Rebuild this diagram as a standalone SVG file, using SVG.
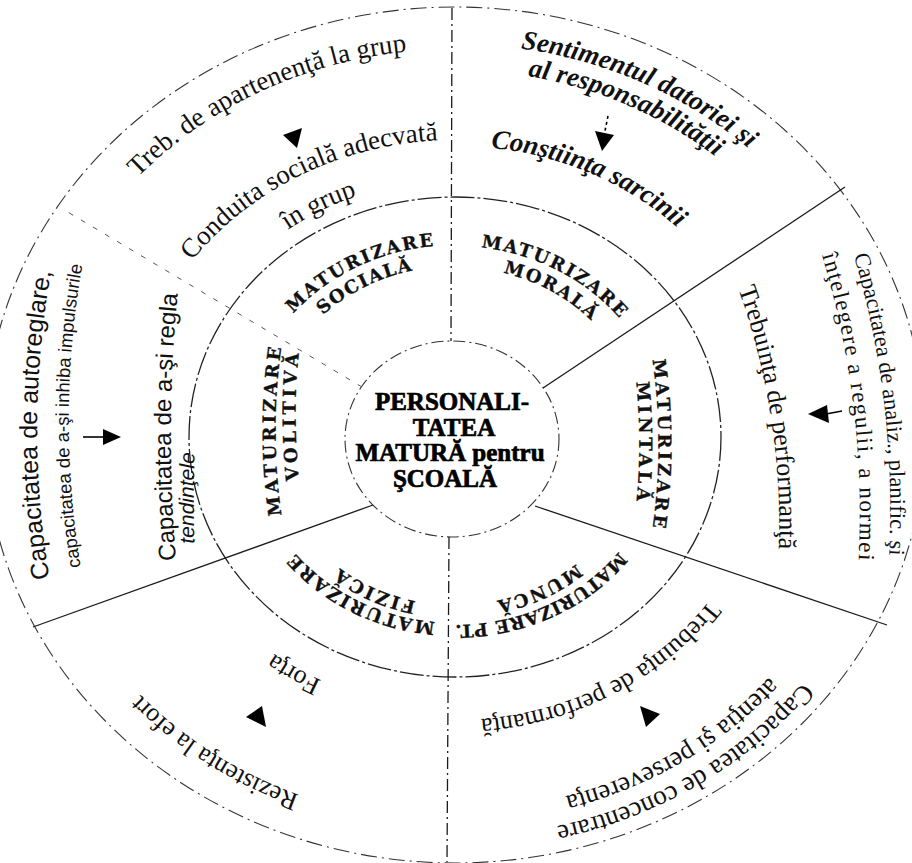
<svg xmlns="http://www.w3.org/2000/svg" width="912" height="863" viewBox="0 0 912 863">
<style>
  .bg{fill:#ffffff}
  .serif{font-family:"Liberation Serif","Times New Roman",serif;fill:#111;text-anchor:middle}
  .it{font-style:italic;font-weight:bold}
  .sans{font-family:"Liberation Sans",Arial,sans-serif;fill:#111;text-anchor:middle}
  .cap{font-family:"DejaVu Serif","Liberation Serif",serif;font-weight:bold;font-size:18px;fill:#111;stroke:#111;stroke-width:0.3;text-anchor:middle}
  .ctr{font-family:"Liberation Serif","Times New Roman",serif;font-weight:bold;font-size:25px;fill:#000;stroke:#000;stroke-width:0.7;text-anchor:middle}
  .outer{fill:none;stroke:#333;stroke-width:1.1;stroke-dasharray:16 5 2 5}
  .mid{fill:none;stroke:#222;stroke-width:1.3;stroke-dasharray:24 3 3 3}
  .inner{fill:none;stroke:#333;stroke-width:1.1;stroke-dasharray:12 4 2 4}
  .div{fill:none;stroke:#1a1a1a;stroke-width:1.3}
  .dash{stroke-dasharray:12 4 2 4}
  .faint{stroke:#555;stroke-width:1;stroke-dasharray:5 9}
  .arr{fill:#000}
  .stem{stroke:#000;stroke-width:1.6;fill:none}
</style>
<defs>
  <path id="pA" d="M95.0,228.5 A426.8,388 0 0 1 473.6,49.4"/>
  <path id="pB" d="M165.0,300.3 A326.7,297 0 0 1 485.7,141.3"/>
  <path id="pC" d="M243.3,266.7 A282.7,257 0 0 1 413.2,182.8"/>
  <path id="pD" d="M455,44 A432.3,393 0 0 1 795.7,195.0"/>
  <path id="pE" d="M465.6,70.1 A403.7,367 0 0 1 762.0,198.7"/>
  <path id="pF" d="M419.3,147.8 A320.1,291 0 0 1 725.3,281.1"/>
  <path id="pG" d="M843.4,222.2 A900,900 0 0 1 886.6,589.8"/>
  <path id="pH" d="M813.5,228.2 A900,900 0 0 1 856.5,589.8"/>
  <path id="pI" d="M725.4,255.4 A700,700 0 0 1 776.6,584.6"/>
  <path id="pJ" d="M839.8,630.9 A440,400 0 0 1 493.3,835.5"/>
  <path id="pK" d="M806.7,629.1 A410.3,373 0 0 1 505.0,807.2"/>
  <path id="pL" d="M734.8,561.1 A311.3,283 0 0 1 433.3,719.3"/>
  <path id="pM" d="M359.7,812.1 A423.5,385 0 0 1 99.8,646.7"/>
  <path id="pN" d="M367.5,697.1 A299.2,272 0 0 1 236.2,622.5"/>
  <path id="pO" d="M56,613 A900,900 0 0 1 58,237"/>
  <path id="pP" d="M87,601 A900,900 0 0 1 89,231"/>
  <path id="pQ" d="M179,592 A1500,1500 0 0 1 181,262"/>
  <path id="pR" d="M196,578 A1500,1500 0 0 1 196,418"/>
  <path id="s1" d="M268.5,346.9 A211.2,192 0 0 1 477.1,246.1"/>
  <path id="s2" d="M293.8,348.9 A188.1,171 0 0 1 458.3,266.0"/>
  <path id="s3" d="M440.3,246.5 A210.1,191 0 0 1 643.8,353.3"/>
  <path id="s4" d="M459.9,267.1 A187,170 0 0 1 619.3,355.9"/>
  <path id="s5" d="M643,310 A600,600 0 0 1 643,580"/>
  <path id="s6" d="M625,313 A600,600 0 0 1 625,573"/>
  <path id="s7" d="M638.4,523.8 A206.8,188 0 0 1 420.9,622.4"/>
  <path id="s8" d="M600.6,540.4 A184.8,168 0 0 1 461.4,604.9"/>
  <path id="s9" d="M465.7,622.7 A204.6,186 0 0 1 276.1,527.2"/>
  <path id="s10" d="M451.8,605.0 A184.8,168 0 0 1 311.4,542.7"/>
  <path id="s11" d="M291,565 A600,600 0 0 1 291,295"/>
  <path id="s12" d="M311,550 A600,600 0 0 1 311,280"/>
</defs>
<rect class="bg" x="0" y="0" width="912" height="863"/>

<g id="frame">
  <ellipse class="outer" cx="455" cy="435" rx="470" ry="428"/>
  <ellipse class="mid" cx="455" cy="437" rx="266" ry="240"/>
  <ellipse class="inner" cx="452" cy="439" rx="107" ry="98"/>
  <path class="div dash" d="M452,8 L451,341"/>
  <path class="div" d="M543,388 L845,187"/>
  <path class="div" d="M535,506 L887,625"/>
  <path class="div dash" d="M449,537 L447,862"/>
  <path class="div" d="M373,505 L33,627"/>
  <path class="div faint" d="M362,387 L66,211"/>
</g>

<g id="connectors">
  <polygon class="arr" points="283,135 302,128 297,148"/>
  <path class="stem" d="M608,116 L605,131" stroke-dasharray="3 3"/>
  <polygon class="arr" points="595,131 614,135 602,151"/>
  <path class="stem" d="M826,414 L842,411"/>
  <polygon class="arr" points="808,414 827,405 829,423"/>
  <path class="stem" d="M83,437 L104,437"/>
  <polygon class="arr" points="103,429 103,445 121,437"/>
  <polygon class="arr" points="640,706 660,714 646,727"/>
  <polygon class="arr" points="262,706 246,717 266,727"/>
</g>

<g id="center">
  <text class="ctr" x="452" y="410" font-size="26">PERSONALI-</text>
  <text class="ctr" x="454" y="436">TATEA</text>
  <text class="ctr" x="450" y="461">MATURĂ pentru</text>
  <text class="ctr" x="445" y="487">ŞCOALĂ</text>
</g>

<g id="maturizare-sociala">
  <text class="cap" letter-spacing="2"><textPath href="#s1" startOffset="50%">MATURIZARE</textPath></text>
  <text class="cap" letter-spacing="1.5"><textPath href="#s2" startOffset="50%">SOCIALĂ</textPath></text>
</g>
<g id="maturizare-morala">
  <text class="cap" letter-spacing="2"><textPath href="#s3" startOffset="50%">MATURIZARE</textPath></text>
  <text class="cap" letter-spacing="2"><textPath href="#s4" startOffset="50%">MORALĂ</textPath></text>
</g>
<g id="maturizare-mintala">
  <text class="cap" letter-spacing="3"><textPath href="#s5" startOffset="50%">MATURIZARE</textPath></text>
  <text class="cap" letter-spacing="3.5"><textPath href="#s6" startOffset="50%">MINTALĂ</textPath></text>
</g>
<g id="maturizare-munca">
  <text class="cap" font-size="17.5" letter-spacing="0.5"><textPath href="#s7" startOffset="50%">MATURIZARE PT.</textPath></text>
  <text class="cap" letter-spacing="2"><textPath href="#s8" startOffset="50%">MUNCĂ</textPath></text>
</g>
<g id="maturizare-fizica">
  <text class="cap" letter-spacing="2"><textPath href="#s9" startOffset="50%">MATURIZARE</textPath></text>
  <text class="cap" letter-spacing="2.5"><textPath href="#s10" startOffset="50%">FIZICĂ</textPath></text>
</g>
<g id="maturizare-volitiva">
  <text class="cap" letter-spacing="3"><textPath href="#s11" startOffset="50%">MATURIZARE</textPath></text>
  <text class="cap" letter-spacing="3.8"><textPath href="#s12" startOffset="50%">VOLITIVĂ</textPath></text>
</g>

<g id="sector-social">
  <text class="serif" font-size="27"><textPath href="#pA" startOffset="50%">Treb. de apartenenţă la grup</textPath></text>
  <text class="serif" font-size="27"><textPath href="#pB" startOffset="50%">Conduita socială adecvată</textPath></text>
  <text class="serif" font-size="27"><textPath href="#pC" startOffset="50%">în grup</textPath></text>
</g>
<g id="sector-moral">
  <text class="serif it" font-size="27"><textPath href="#pD" startOffset="50%">Sentimentul datoriei şi</textPath></text>
  <text class="serif it" font-size="27"><textPath href="#pE" startOffset="50%">al responsabilităţii</textPath></text>
  <text class="serif it" font-size="27"><textPath href="#pF" startOffset="50%">Conştiinţa sarcinii</textPath></text>
</g>
<g id="sector-mintal">
  <text class="serif" font-size="22.5"><textPath href="#pG" startOffset="50%">Capacitatea de analiz., planific. şi</textPath></text>
  <text class="serif" font-size="23" letter-spacing="1.5"><textPath href="#pH" startOffset="50%">înţelegere a regulii, a normei</textPath></text>
  <text class="serif" font-size="26"><textPath href="#pI" startOffset="50%">Trebuinţa de performanţă</textPath></text>
</g>
<g id="sector-munca">
  <text class="serif" font-size="27"><textPath href="#pJ" startOffset="50%">Capacitatea de concentrare</textPath></text>
  <text class="serif" font-size="27"><textPath href="#pK" startOffset="50%">atenţia şi perseverenţa</textPath></text>
  <text class="serif" font-size="26"><textPath href="#pL" startOffset="50%">Trebuinţa de performanţă</textPath></text>
</g>
<g id="sector-fizic">
  <text class="serif" font-size="26"><textPath href="#pM" startOffset="50%">Rezistenţa la efort</textPath></text>
  <text class="serif" font-size="26"><textPath href="#pN" startOffset="50%">Forţa</textPath></text>
</g>
<g id="sector-volitiv">
  <text class="sans" font-size="25"><textPath href="#pO" startOffset="50%">Capacitatea de autoreglare,</textPath></text>
  <text class="sans" font-size="18.5"><textPath href="#pP" startOffset="50%">capacitatea de a-şi inhiba impulsurile</textPath></text>
  <text class="sans" font-size="24"><textPath href="#pQ" startOffset="50%">Capacitatea de a-şi regla</textPath></text>
  <text class="sans" font-size="21" font-style="italic"><textPath href="#pR" startOffset="50%">tendinţele</textPath></text>
</g>
</svg>
